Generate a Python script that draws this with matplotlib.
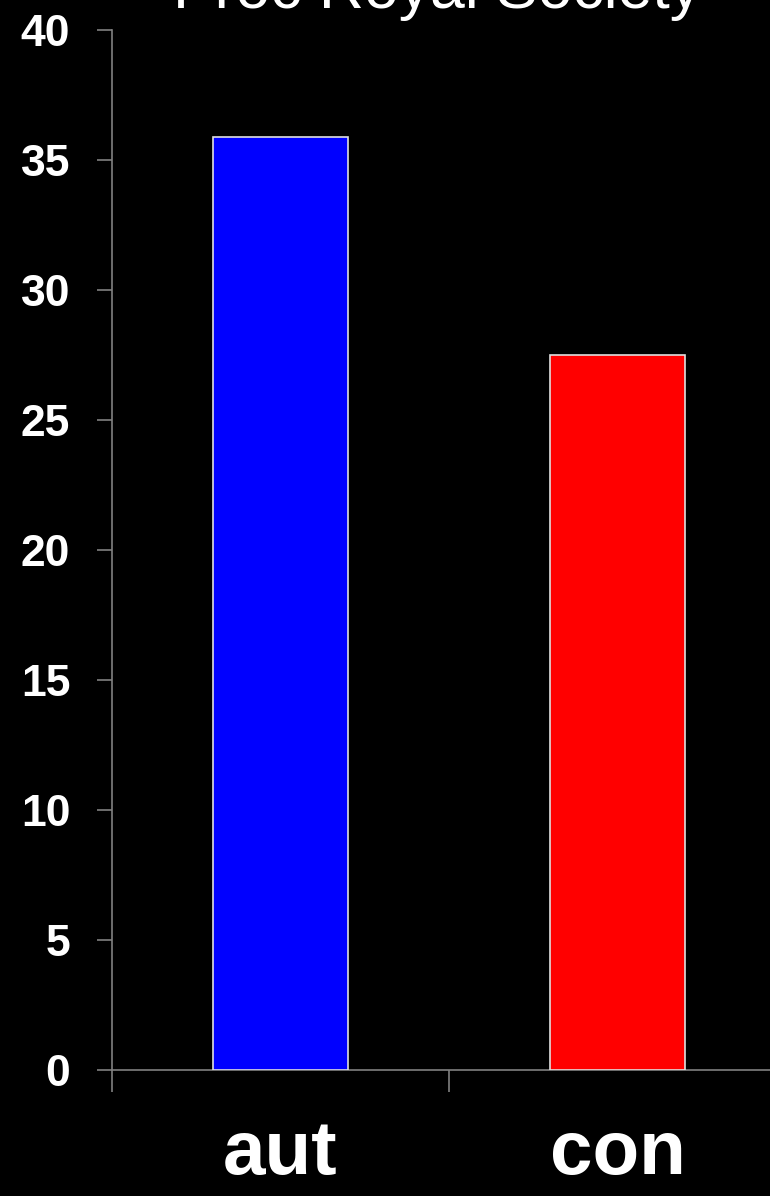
import matplotlib
matplotlib.use("Agg")
import matplotlib.pyplot as plt

categories = ["aut", "con"]
values = [35.9, 27.5]
colors = ["#0000FF", "#FF0000"]
yticks = [0, 5, 10, 15, 20, 25, 30, 35, 40]
title = "Proc Royal Society"

plt.rcParams['font.family'] = ['Liberation Sans', 'DejaVu Sans']

W, H = 770, 1196
fig = plt.figure(figsize=(W / 100, H / 100), dpi=100, facecolor="black")
ax = fig.add_axes([112 / W, 126 / H, 674 / W, 1040 / H])
ax.set_facecolor("black")

x = [1, 2]
ax.bar(x, values, width=0.4, color=colors, edgecolor="#e0e0e0", linewidth=1.2, zorder=3)

ax.set_xlim(0.5, 2.5)
ax.set_ylim(0, 40)
ax.set_yticks(yticks)
ax.set_yticklabels([str(t) for t in yticks], fontsize=32, fontweight="bold", color="white")
ax.tick_params(axis="y", direction="out", length=11, width=1.2, color="#808080", pad=19)

ax.set_xticks([0.5, 1.5, 2.5])
ax.set_xticklabels([])
ax.tick_params(axis="x", which="major", direction="out", length=16, width=1.2, color="#808080")
ax.set_xticks(x, minor=True)
ax.set_xticklabels(categories, minor=True, fontsize=55, fontweight="bold", color="white")
ax.tick_params(axis="x", which="minor", length=0, pad=35)

for s in ["top", "right"]:
    ax.spines[s].set_visible(False)
for s in ["left", "bottom"]:
    ax.spines[s].set_color("#808080")
    ax.spines[s].set_linewidth(1.2)

fig.text(437 / W, (H - 8) / H, title, ha="center", va="baseline", fontsize=45, color="white")

fig.savefig("out.png", dpi=100, facecolor="black")
